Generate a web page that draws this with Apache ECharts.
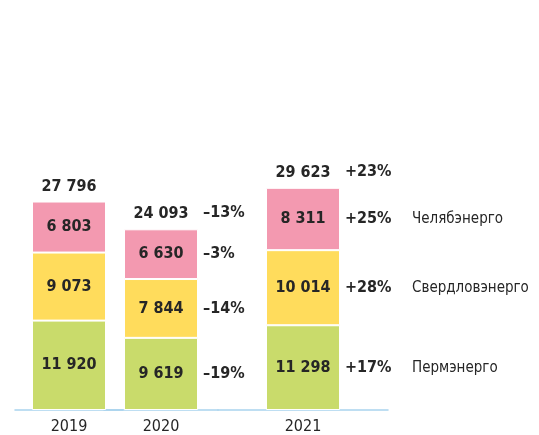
<!DOCTYPE html>
<html>
<head>
<meta charset="utf-8">
<script src="https://cdn.jsdelivr.net/npm/echarts@6/dist/echarts.min.js"></script>
<style>
  html, body { margin: 0; padding: 0; background: #fff; }
  #main { width: 539px; height: 435px; }
</style>
</head>
<body>
<div id="main"></div>
<script>
"use strict";
let years = ['2019', '2020', '2021'];
let names = ['Пермэнерго', 'Свердловэнерго', 'Челябэнерго'];
let perm = [11920, 9619, 11298];
let sverd = [9073, 7844, 10014];
let chel = [6803, 6630, 8311];
let totals = [27796, 24093, 29623];
// change vs previous year, per segment and for the total
let permChange = ['', '–19%', '+17%'];
let sverdChange = ['', '–14%', '+28%'];
let chelChange = ['', '–3%', '+25%'];
let totalChange = ['', '–13%', '+23%'];

let colors = ['#C9DB6B', '#FFDC5C', '#F399B0'];
let font = "'DejaVu Sans Condensed', 'Liberation Sans Narrow', sans-serif";
let ink = '#262626';

function fmt(v) {
    return String(v).replace(/\B(?=(\d{3})+(?!\d))/g, ' ');
}

let segments = [perm, sverd, chel];
let changes = [permChange, sverdChange, chelChange];

// one grid per year so the gap before 2021 can be wider
let grids = [
    { left: 15, width: 108, top: 110, bottom: 25 },
    { left: 104, width: 114, top: 110, bottom: 25 },
    { left: 218, width: 170, top: 110, bottom: 25 }
];

let xAxes = [];
let yAxes = [];
let series = [];

for (let i = 0; i < years.length; i++) {
    xAxes.push({
        type: 'category',
        gridIndex: i,
        data: [years[i]],
        axisLine: { lineStyle: { color: '#A9D3EE', width: 1.5 } },
        axisTick: { show: false },
        axisLabel: { color: ink, fontFamily: font, fontSize: 16, margin: 9 }
    });
    yAxes.push({
        type: 'value', gridIndex: i, min: 0, max: 40000, show: false
    });

    for (let s = 0; s < segments.length; s++) {
        series.push({
            name: names[s],
            type: 'bar',
            xAxisIndex: i, yAxisIndex: i,
            stack: 'v' + i,
            barWidth: 74,
            barGap: '-100%',
            data: [segments[s][i]],
            itemStyle: { color: colors[s], borderColor: '#fff', borderWidth: 1 },
            label: {
                show: true, position: 'inside',
                formatter: (p) => fmt(p.value),
                color: ink, fontFamily: font, fontWeight: 'bold', fontSize: 16
            }
        });
    }
    // total on top of the stack
    series.push({
        type: 'bar',
        xAxisIndex: i, yAxisIndex: i,
        stack: 'v' + i,
        barWidth: 74,
        barGap: '-100%',
        data: [0],
        itemStyle: { color: 'transparent' },
        label: {
            show: true, position: 'top', distance: 7,
            formatter: () => fmt(totals[i]),
            color: ink, fontFamily: font, fontWeight: 'bold', fontSize: 16
        }
    });

    if (i === 0) continue;

    // invisible copy of the stack carrying the % change labels
    for (let s = 0; s < segments.length; s++) {
        let legendName = i === years.length - 1 ? names[s] : '';
        series.push({
            type: 'bar',
            xAxisIndex: i, yAxisIndex: i,
            stack: 'p' + i,
            barWidth: 74,
            barGap: '-100%',
            data: [segments[s][i]],
            itemStyle: { color: 'transparent' },
            silent: true,
            label: {
                show: true, position: 'right', distance: 5,
                formatter: '{p|' + changes[s][i] + '}' + (legendName ? '{n|' + legendName + '}' : ''),
                rich: {
                    p: { color: ink, fontFamily: font, fontWeight: 'bold', fontSize: 16, width: 67 },
                    n: { color: ink, fontFamily: font, fontSize: 15 }
                }
            }
        });
    }
    series.push({
        type: 'bar',
        xAxisIndex: i, yAxisIndex: i,
        stack: 'p' + i,
        barWidth: 74,
        barGap: '-100%',
        data: [0],
        itemStyle: { color: 'transparent' },
        silent: true,
        label: {
            show: true, position: 'right', distance: 5, offset: [0, -16],
            formatter: () => totalChange[i],
            color: ink, fontFamily: font, fontWeight: 'bold', fontSize: 16
        }
    });
}

let myChart = echarts.init(document.getElementById('main'));
myChart.setOption({
    animation: false,
    grid: grids,
    xAxis: xAxes,
    yAxis: yAxes,
    series: series
});
</script>
</body>
</html>
